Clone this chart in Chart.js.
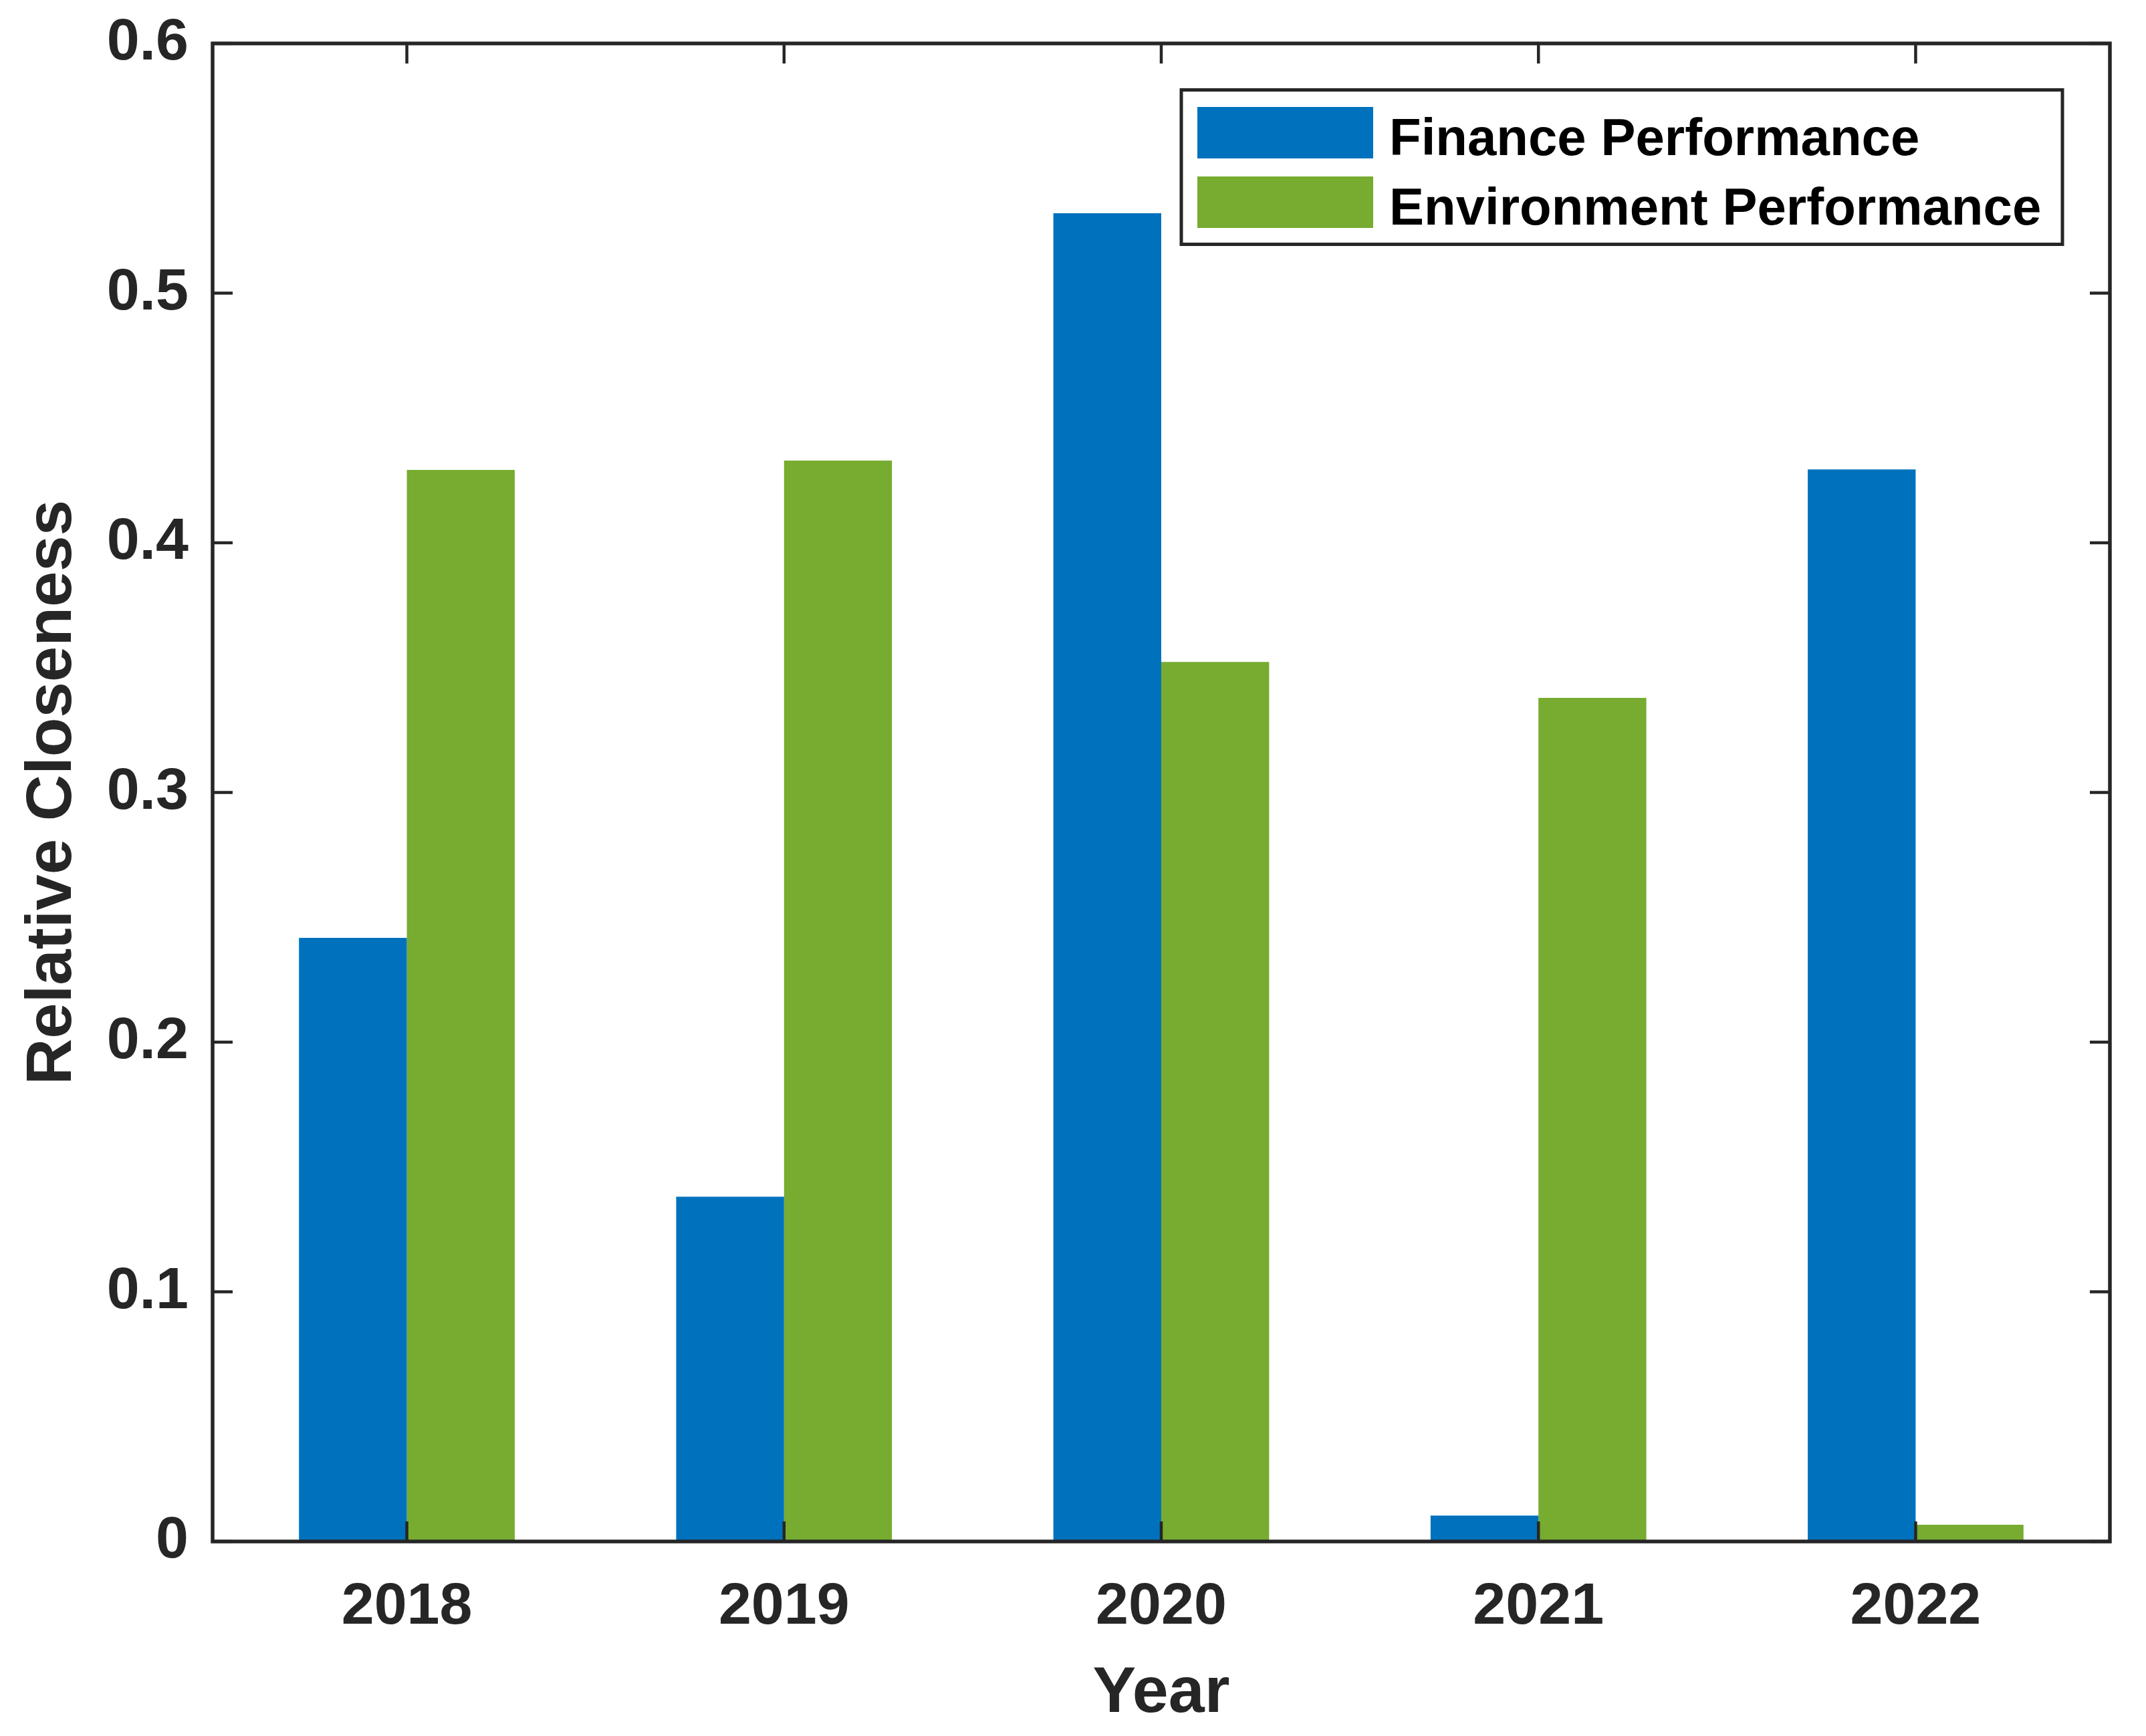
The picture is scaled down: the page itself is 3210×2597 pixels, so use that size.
<!DOCTYPE html>
<html>
<head>
<meta charset="utf-8">
<script src="https://cdn.jsdelivr.net/npm/chart.js@4/dist/chart.umd.min.js"></script>
<style>
  html, body { margin: 0; padding: 0; background: #fff; }
  #wrap { width: 3210px; height: 2597px; }
</style>
</head>
<body>
<div id="wrap"><canvas id="barChart" width="3210" height="2597"></canvas></div>
<script>
// data
const years = ['2018', '2019', '2020', '2021', '2022'];
const financePerf = [0.2418, 0.1381, 0.5320, 0.0104, 0.4294];
const environmentPerf = [0.4292, 0.4329, 0.3523, 0.3379, 0.0067];
const yTicks = [0, 0.1, 0.2, 0.3, 0.4, 0.5, 0.6];

const FONT = "'Liberation Sans', Arial, Helvetica, sans-serif";
const AXIS_COLOR = '#262626';

// bars sit at x = 1..5 on a linear axis, like matlab's bar()
const toPoints = vals => vals.map((v, i) => ({ x: i + 1, y: v }));

// MATLAB-like box with inward ticks on all four sides
const boxAxes = {
    id: 'boxAxes',
    afterDatasetsDraw(chart) {
        const ctx = chart.ctx;
        const a = chart.chartArea;
        const xs = chart.scales.x, ys = chart.scales.y;
        const tl = 30;
        ctx.save();
        ctx.strokeStyle = AXIS_COLOR;
        ctx.lineWidth = 4.5;
        ctx.beginPath();
        yTicks.forEach(v => {
            const y = ys.getPixelForValue(v);
            ctx.moveTo(a.left, y); ctx.lineTo(a.left + tl, y);
            ctx.moveTo(a.right, y); ctx.lineTo(a.right - tl, y);
        });
        years.forEach((c, i) => {
            const x = xs.getPixelForValue(i + 1);
            ctx.moveTo(x, a.bottom); ctx.lineTo(x, a.bottom - tl);
            ctx.moveTo(x, a.top); ctx.lineTo(x, a.top + tl);
        });
        ctx.stroke();
        ctx.lineWidth = 5.5;
        ctx.strokeRect(a.left, a.top, a.right - a.left, a.bottom - a.top);
        ctx.restore();
    }
};

// legend box in the upper right of the axes
const boxLegend = {
    id: 'boxLegend',
    afterDraw(chart) {
        const ctx = chart.ctx;
        const a = chart.chartArea;
        const right = a.right - 71, top = a.top + 69.5;
        const w = 1318, h = 231;
        const left = right - w;
        ctx.save();
        ctx.fillStyle = '#fff';
        ctx.fillRect(left, top, w, h);
        ctx.strokeStyle = AXIS_COLOR;
        ctx.lineWidth = 5;
        ctx.strokeRect(left, top, w, h);
        ctx.font = 'bold 78px ' + FONT;
        ctx.textBaseline = 'alphabetic';
        ctx.textAlign = 'left';
        chart.data.datasets.forEach((ds, i) => {
            const sy = top + 25.5 + i * 104;
            ctx.fillStyle = ds.backgroundColor;
            ctx.fillRect(left + 24, sy, 263, 77);
            ctx.fillStyle = '#000';
            ctx.fillText(ds.label, left + 311, sy + 72);
        });
        ctx.restore();
    }
};

// keep tick label overhang from pushing the plot box around
function noOverhang(scale) {
    scale.paddingTop = 0; scale.paddingBottom = 0;
    scale.paddingLeft = 0; scale.paddingRight = 0;
}

const ctx = document.getElementById('barChart').getContext('2d');
new Chart(ctx, {
    type: 'bar',
    data: {
        datasets: [
            { label: 'Finance Performance', data: toPoints(financePerf), backgroundColor: '#0072BD' },
            { label: 'Environment Performance', data: toPoints(environmentPerf), backgroundColor: '#77AC30' }
        ]
    },
    options: {
        responsive: false,
        animation: false,
        devicePixelRatio: 1,
        layout: { padding: { left: 0, top: 65, right: 54, bottom: 0 } },
        datasets: { bar: { categoryPercentage: 0.572, barPercentage: 1.0, borderWidth: 0 } },
        plugins: {
            legend: { display: false },
            tooltip: { enabled: false }
        },
        scales: {
            x: {
                type: 'linear',
                min: 0.485, max: 5.515,
                offset: false,
                grid: { display: false, drawTicks: false },
                border: { display: false },
                afterBuildTicks(scale) { scale.ticks = years.map((y, i) => ({ value: i + 1 })); },
                ticks: {
                    color: AXIS_COLOR, padding: 46,
                    font: { family: FONT, size: 88, weight: 'bold' },
                    callback: v => years[Math.round(v) - 1]
                },
                title: { display: true, text: 'Year', color: AXIS_COLOR, padding: { top: 0, bottom: 5 },
                         font: { family: FONT, size: 97, weight: 'bold' } },
                afterFit(scale) { scale.height = 291; noOverhang(scale); }
            },
            y: {
                min: 0, max: 0.6,
                grid: { display: false, drawTicks: false },
                border: { display: false },
                afterBuildTicks(scale) { scale.ticks = yTicks.map(v => ({ value: v })); },
                ticks: {
                    color: AXIS_COLOR, padding: 36,
                    font: { family: FONT, size: 88, weight: 'bold' },
                    callback: v => (v === 0 ? '0' : v.toFixed(1))
                },
                title: { display: true, text: 'Relative Closeness', color: AXIS_COLOR, padding: { top: 22, bottom: 0 },
                         font: { family: FONT, size: 96, weight: 'bold' } },
                afterFit(scale) { scale.width = 318; noOverhang(scale); }
            }
        }
    },
    plugins: [boxAxes, boxLegend]
});
</script>
</body>
</html>
